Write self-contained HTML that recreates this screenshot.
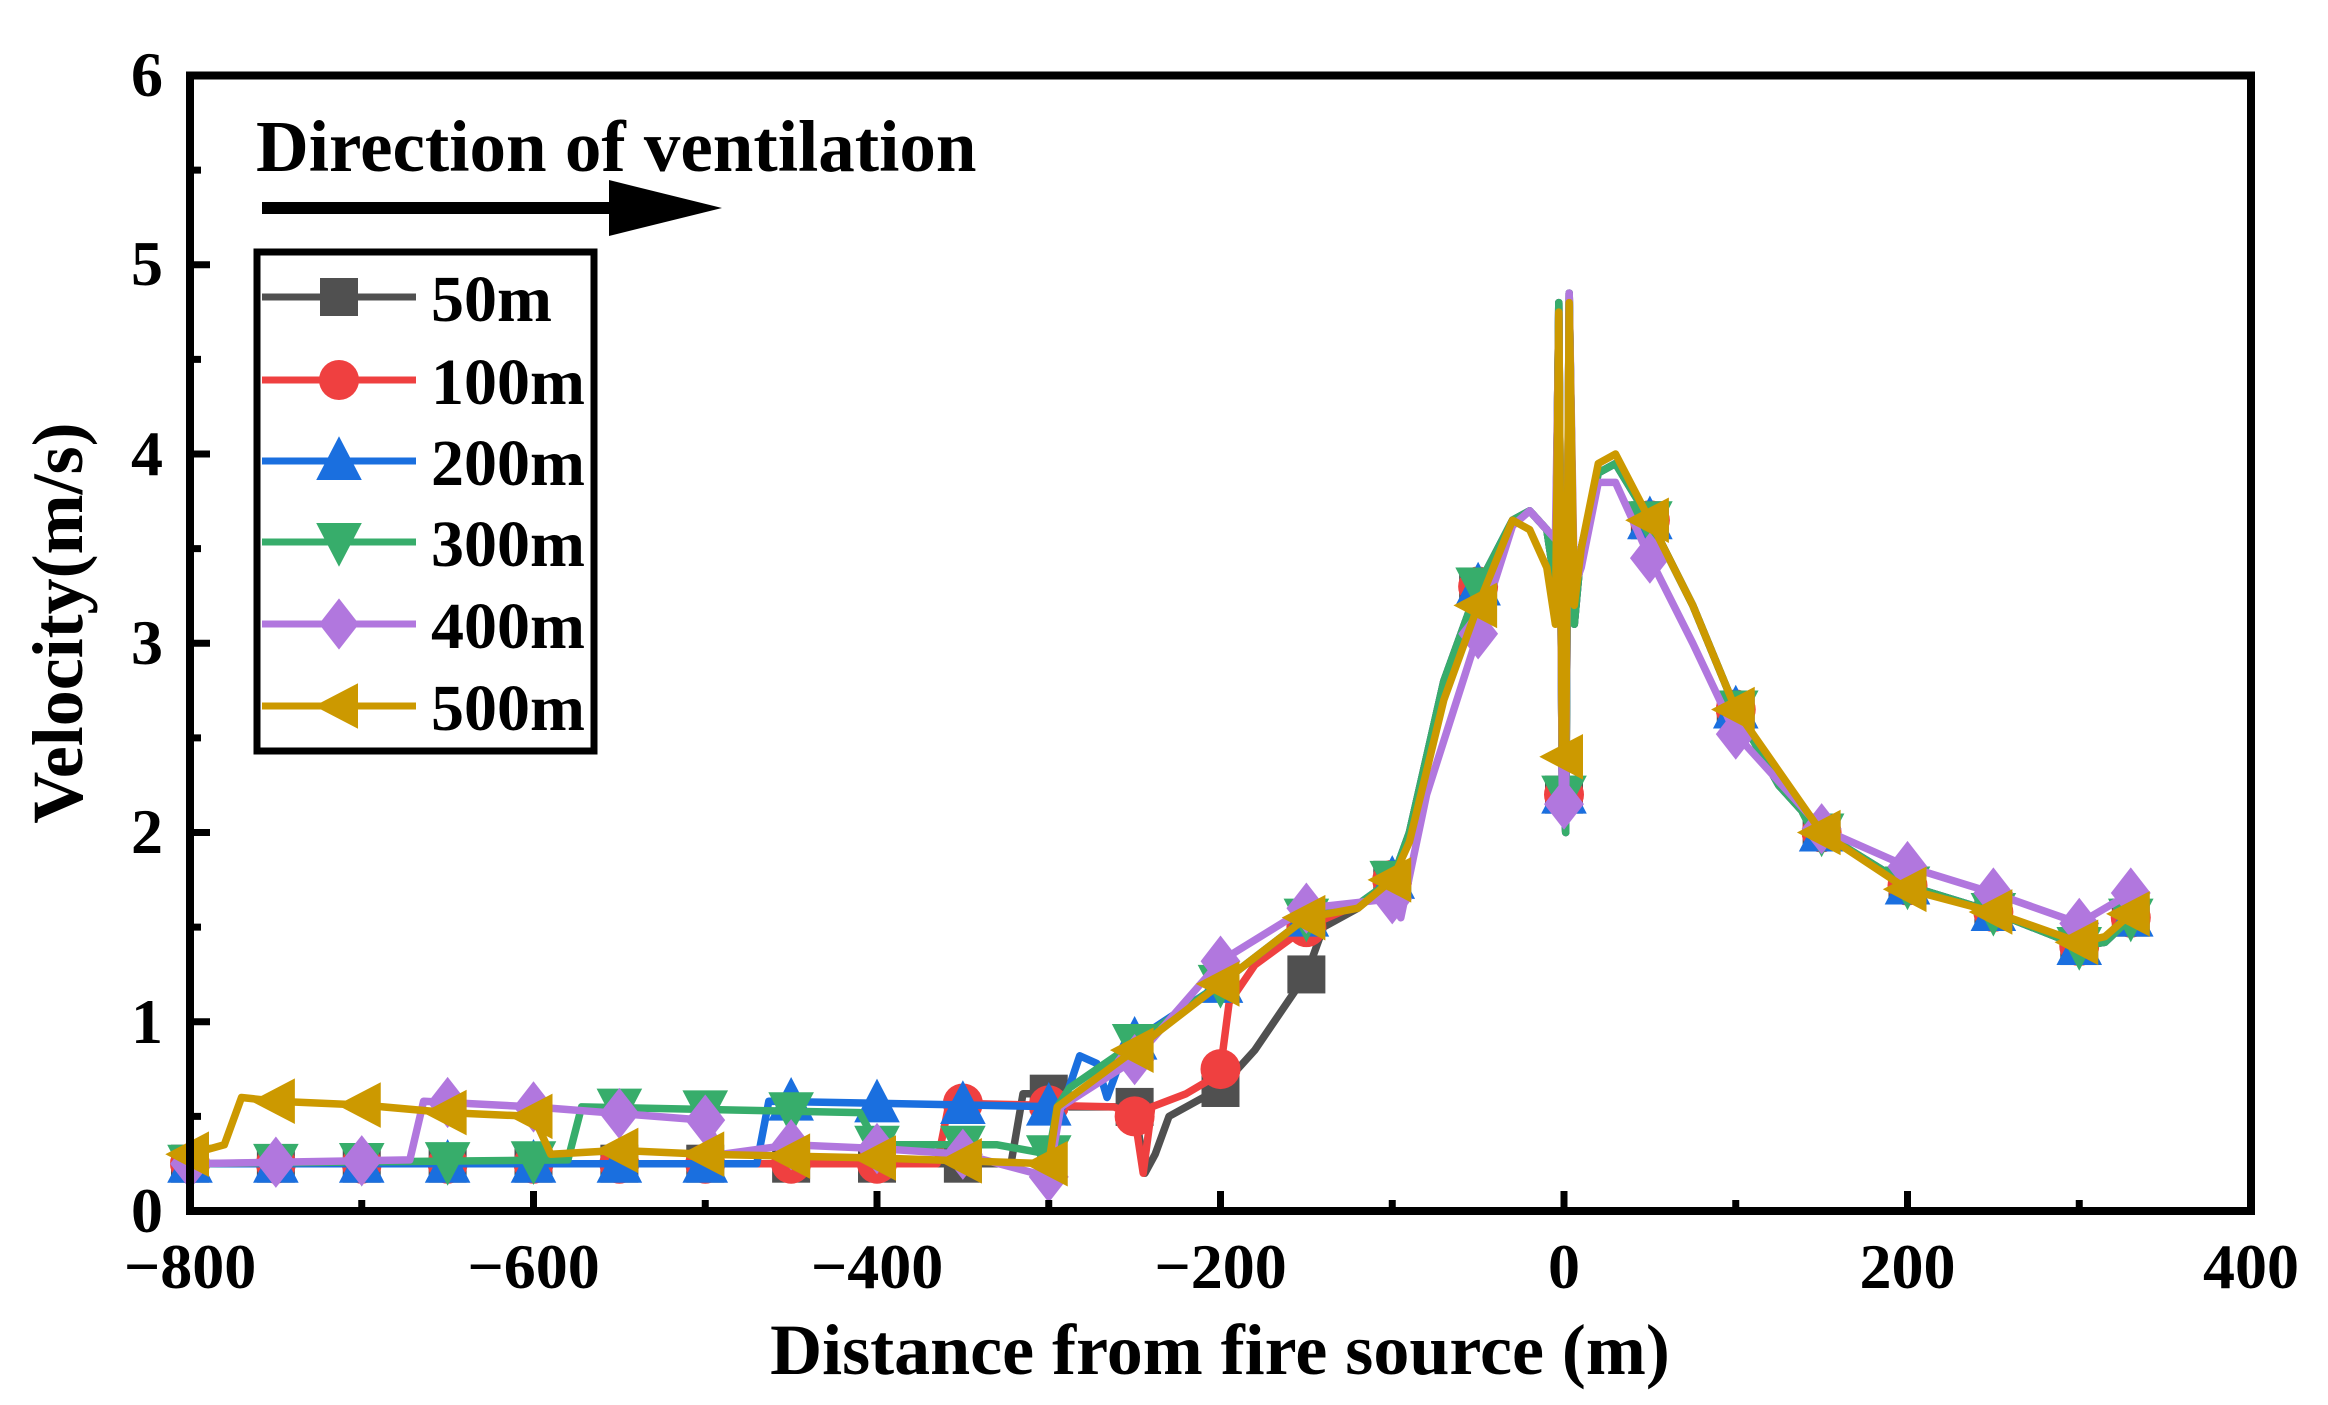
<!DOCTYPE html>
<html><head><meta charset="utf-8"><style>
html,body{margin:0;padding:0;background:#fff;}
svg{display:block;}
text{font-family:"Liberation Serif",serif;font-weight:bold;fill:#000;}
</style></head><body>
<svg id="s" width="2328" height="1405" viewBox="0 0 2328 1405" xmlns="http://www.w3.org/2000/svg">
<rect width="2328" height="1405" fill="#fff"/>
<g id="plot"></g>
<rect x="190" y="75.5" width="2061" height="1135.5" fill="none" stroke="#000" stroke-width="8"/>
<g id="ticks" stroke="#000" stroke-width="7"></g>
<g font-size="64">
<text x="163" y="96" text-anchor="end">6</text>
<text x="163" y="285" text-anchor="end">5</text>
<text x="163" y="475" text-anchor="end">4</text>
<text x="163" y="664" text-anchor="end">3</text>
<text x="163" y="853" text-anchor="end">2</text>
<text x="163" y="1043" text-anchor="end">1</text>
<text x="163" y="1232" text-anchor="end">0</text>
<text x="190" y="1288" text-anchor="middle">−800</text>
<text x="533.5" y="1288" text-anchor="middle">−600</text>
<text x="877" y="1288" text-anchor="middle">−400</text>
<text x="1220.5" y="1288" text-anchor="middle">−200</text>
<text x="1564" y="1288" text-anchor="middle">0</text>
<text x="1907.5" y="1288" text-anchor="middle">200</text>
<text x="2251" y="1288" text-anchor="middle">400</text>
</g>
<text x="1220" y="1374" font-size="72" text-anchor="middle">Distance from fire source (m)</text>
<text transform="translate(82,623) rotate(-90)" font-size="72" text-anchor="middle">Velocity(m/s)</text>
<text x="256" y="171" font-size="73">Direction of ventilation</text>
<line x1="262" y1="208" x2="615" y2="208" stroke="#000" stroke-width="12"/>
<polygon points="609,180 722,208 609,236" fill="#000"/>
<rect x="257" y="252" width="337" height="499" fill="#fff" stroke="#000" stroke-width="7"/>
<g id="legend"></g>
</svg>
<script>
var X=function(v){return 190+(v+800)*2061/1200;};
var Y=function(v){return 1211-v*189.25;};
var common=[[-250,0.85],[-200,1.2],[-150,1.55],[-120,1.62],[-100,1.75],[-90,2.0],[-70,2.8],[-50,3.3],[-30,3.65],[-20,3.7],[-10,3.6],[-5,3.3],[-3,4.8],[-1,2.2],[0,2.2],[1,2.0],[3,4.85],[6,3.1],[10,3.5],[20,3.9],[30,3.95],[50,3.65],[75,3.2],[100,2.65],[125,2.25],[150,2.0],[200,1.72],[250,1.58],[300,1.4],[315,1.42],[330,1.55]];
function tail(from){return common.filter(function(p){return p[0]>from;});}
var S=[
{c:"#505050",m:"sq",d:[[-800,0.25],[-322,0.25],[-315,0.62],[-292,0.62],[-288,0.55],[-250,0.55],[-244,0.2],[-238,0.3],[-230,0.5],[-200,0.65],[-180,0.85],[-150,1.25],[-140,1.5],[-120,1.6]].concat(tail(-120))},
{c:"#ef4040",m:"ci",d:[[-800,0.25],[-365,0.25],[-358,0.57],[-262,0.55],[-250,0.5],[-245,0.2],[-240,0.55],[-220,0.62],[-205,0.7],[-200,0.75],[-195,1.1],[-180,1.3],[-150,1.5]].concat(tail(-150))},
{c:"#1a6fdf",m:"up",d:[[-800,0.25],[-470,0.25],[-463,0.58],[-292,0.55],[-282,0.82],[-272,0.78],[-266,0.6],[-256,0.85],[-250,0.9]].concat(tail(-250))},
{c:"#37ad6b",m:"dn",d:[[-800,0.25],[-580,0.27],[-572,0.55],[-410,0.52],[-400,0.35],[-330,0.35],[-300,0.3],[-295,0.55],[-288,0.65]].concat(tail(-250))},
{c:"#b177de",m:"di",d:[[-800,0.25],[-672,0.27],[-664,0.58],[-600,0.55],[-500,0.48],[-490,0.3],[-450,0.35],[-400,0.33],[-350,0.3],[-300,0.18],[-293,0.55],[-250,0.8],[-200,1.32],[-150,1.6],[-100,1.65],[-95,1.55],[-80,2.2],[-50,3.05],[-30,3.62],[-20,3.7],[-10,3.6],[-5,3.55],[-3,4.7],[-1,2.2],[0,2.15],[1,2.2],[3,4.85],[6,3.3],[10,3.4],[20,3.85],[30,3.85],[50,3.45],[75,3.0],[100,2.52],[150,2.02],[200,1.82],[250,1.68],[300,1.52],[330,1.68]]},
{c:"#cc9900",m:"le",d:[[-800,0.3],[-780,0.35],[-770,0.6],[-750,0.58],[-700,0.56],[-650,0.52],[-600,0.5],[-590,0.3],[-550,0.32],[-500,0.3],[-400,0.28],[-300,0.25],[-295,0.55],[-250,0.85],[-200,1.2],[-150,1.55],[-120,1.6],[-100,1.75],[-90,1.95],[-70,2.7],[-50,3.2],[-30,3.65],[-20,3.6],[-10,3.4],[-5,3.1],[-3,4.75],[-1,2.4],[0,2.4],[1,2.4],[3,4.8],[6,3.2],[10,3.5],[20,3.95],[30,4.0],[50,3.65],[75,3.2],[100,2.65],[150,2.0],[200,1.7],[250,1.58],[300,1.42],[315,1.45],[330,1.57]]}
];
function interp(d,x){for(var i=1;i<d.length;i++){if(d[i][0]>=x){var a=d[i-1],b=d[i];var t=(x-a[0])/((b[0]-a[0])||1);return a[1]+t*(b[1]-a[1]);}}return d[d.length-1][1];}
function marker(m,x,y,c,r){r=r||19;
 if(m=="sq")return '<rect x="'+(x-r)+'" y="'+(y-r)+'" width="'+2*r+'" height="'+2*r+'" fill="'+c+'"/>';
 if(m=="ci")return '<circle cx="'+x+'" cy="'+y+'" r="'+(r+1)+'" fill="'+c+'"/>';
 var p;
 if(m=="up")p=[[x,y-r*1.3],[x+r*1.2,y+r],[x-r*1.2,y+r]];
 if(m=="dn")p=[[x,y+r*1.3],[x+r*1.2,y-r],[x-r*1.2,y-r]];
 if(m=="di")p=[[x,y-r*1.35],[x+r*1.05,y],[x,y+r*1.35],[x-r*1.05,y]];
 if(m=="le")p=[[x-r*1.3,y],[x+r,y-r*1.2],[x+r,y+r*1.2]];
 return '<polygon points="'+p.map(function(q){return q.join(",");}).join(" ")+'" fill="'+c+'"/>';}
var h="";
S.forEach(function(s){
 h+='<polyline fill="none" stroke="'+s.c+'" stroke-width="7.5" stroke-linejoin="round" points="'+s.d.map(function(p){return X(p[0]).toFixed(1)+","+Y(p[1]).toFixed(1);}).join(" ")+'"/>';
 var xs=[];for(var x=-800;x<=300;x+=50)xs.push(x);xs.push(330);
 xs.forEach(function(x){h+=marker(s.m,X(x),Y(interp(s.d,x)),s.c);});
});
document.getElementById("plot").innerHTML=h;
var t="";
for(var v=0;v<=6;v+=0.5){var y=Y(v),L=(v%1==0)?20:11;t+='<line x1="190" y1="'+y+'" x2="'+(190+L)+'" y2="'+y+'"/>';}
for(var v=-800;v<=400;v+=100){var x=X(v),L=(v%200==0)?20:11;t+='<line x1="'+x+'" y1="1211" x2="'+x+'" y2="'+(1211-L)+'"/>';}
document.getElementById("ticks").innerHTML=t;
var names=["50m","100m","200m","300m","400m","500m"],ys=[297,380,461,542,624,706],l="";
S.forEach(function(s,i){l+='<line x1="262" y1="'+ys[i]+'" x2="416" y2="'+ys[i]+'" stroke="'+s.c+'" stroke-width="7"/>'+marker(s.m,339,ys[i],s.c)+'<text x="431" y="'+(ys[i]+24)+'" font-size="66">'+names[i]+'</text>';});
document.getElementById("legend").innerHTML=l;
</script>
</body></html>
